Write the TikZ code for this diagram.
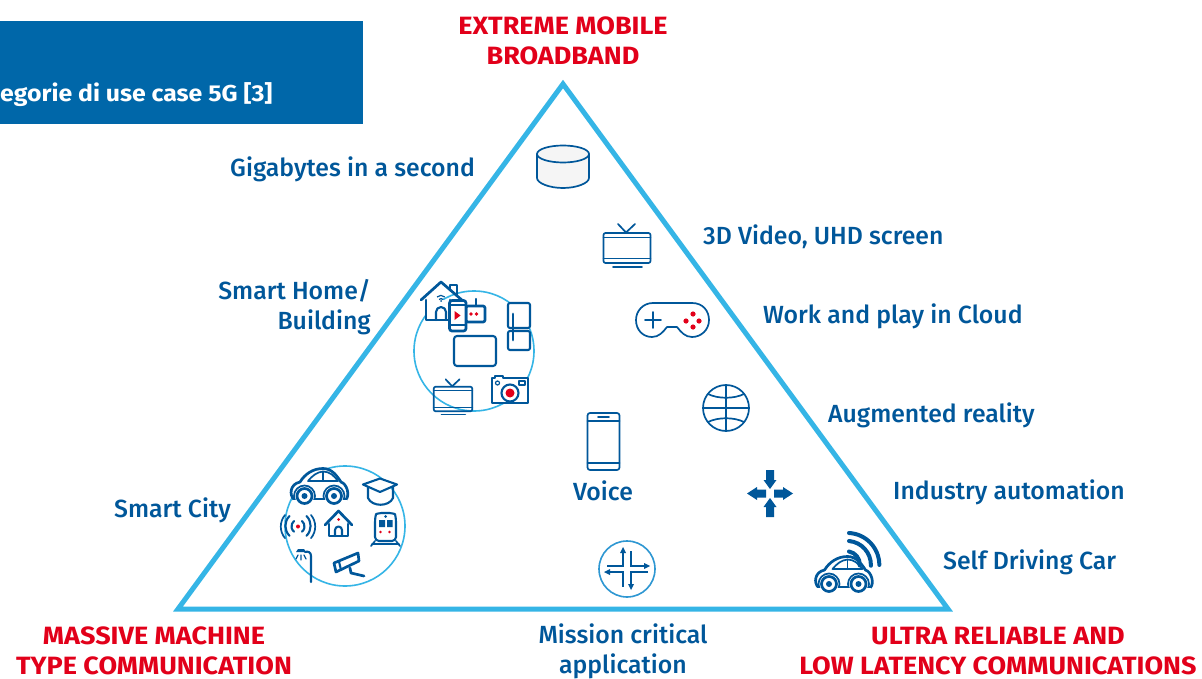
\documentclass[tikz,border=0pt]{standalone}
\usepackage{fontspec}
\setmainfont{Fira Sans}[UprightFont=* Medium,BoldFont=* Bold,BoldFeatures={FakeStretch=1.08}]
\definecolor{ingblue}{HTML}{00579A}
\definecolor{ingred}{HTML}{E2001A}
\definecolor{ingband}{HTML}{0067A9}
\definecolor{ingsky}{HTML}{35B5E6}
\definecolor{ingmid}{HTML}{2E97D2}
\tikzset{
  lbl/.style={text=ingblue,font=\fontsize{24.8}{30}\selectfont,inner sep=0pt,align=center},
  lblr/.style={text=ingblue,font=\fontsize{24.8}{30}\selectfont,inner sep=0pt,align=right},
  cat/.style={text=ingred,font=\bfseries\fontsize{25}{30}\selectfont,inner sep=0pt,align=center},
  ico/.style={draw=ingblue,line width=1.7pt,line join=round,line cap=round},
  icom/.style={draw=ingblue,line width=2.1pt,line join=round,line cap=round},
  icot/.style={draw=ingblue,line width=2.7pt,line join=round,line cap=round},
  halo/.style={draw=ingsky,line width=1.6pt},
}
\newcommand{\caricon}{%
  \path[icot,fill=white] (-25,12.5) .. controls (-30,8) and (-29,-3) .. (-19,-5)
     .. controls (-14,-13) and (-6,-18.5) .. (4,-18.5)
     .. controls (13,-18.5) and (18,-11) .. (22,-5)
     .. controls (28,-3) and (31,8) .. (27,12.5) -- cycle;
  \path[ico] (-11,-6) .. controls (-7,-11) and (-2,-15) .. (4,-15.5) .. controls (11,-15.5) and (15,-11) .. (19,-6) -- cycle;
  \path[ico] (4,-15.5) -- (4,-6);
  \path[ico,fill=white] (-14.5,9) circle (10.5);
  \path[ico,fill=white] (15,9) circle (10.5);
  \path[draw=white,fill=white,line width=1pt] (-26,13.8) rectangle (27,21);
  \path[icot,fill=white] (-14.5,9) circle (7.5);
  \path[icot,fill=white] (15,9) circle (7.5);
  \fill[ingblue] (-14.5,9) circle (3);
  \fill[ingblue] (15,9) circle (3);
}
\newcommand{\tvicon}{%
  \path[ico,rounded corners=2pt] (-23.5,-15) rectangle (23.5,15);
  \path[ico] (-23.5,-10.5) -- (23.5,-10.5) (-23.5,10.5) -- (23.5,10.5);
  \path[ico] (-9,-24) -- (-1,-15.5) -- (8,-24);
  \path[ico] (-14,19) -- (15,19);
}
\begin{document}
\begin{tikzpicture}[x=1pt,y=-1pt]
\useasboundingbox (0,0) rectangle (1202,679);
\fill[white] (0,0) rectangle (1202,679);

% title band
\fill[ingband] (0,21) rectangle (363,124);
\node[anchor=base west,inner sep=0pt,text=white,font=\bfseries\fontsize{23}{24}\selectfont] (title) at (0,101.5) {egorie di use case 5G [3]};

% triangle
\draw[draw=ingsky,line width=5pt,miter limit=10] (563,84) -- (948,609) -- (178,609) -- cycle;

% halos
\draw[halo] (474,351) circle (60);
\draw[halo] (345,526) circle (60);

% labels
\node[cat] (embb) at (563,40.5) {EXTREME MOBILE\\BROADBAND};
\node[cat] (mmtc) at (154,651) {MASSIVE MACHINE\\TYPE COMMUNICATION};
\node[cat] (urllc) at (998,651) {ULTRA RELIABLE AND\\LOW LATENCY COMMUNICATIONS};
\node[lbl,anchor=base west] (gig) at (230,177) {Gigabytes in a second};
\node[lbl,anchor=base west] (vid) at (703,244) {3D Video, UHD screen};
\node[lbl,anchor=base west] (work) at (763,323) {Work and play in Cloud};
\node[lblr,anchor=east] (home) at (371,307.5) {Smart Home/\\Building};
\node[lbl,anchor=base west] (ar) at (828,422) {Augmented reality};
\node[lbl,anchor=base west] (ind) at (893,499) {Industry automation};
\node[lbl,anchor=base west] (sdc) at (943,569) {Self Driving Car};
\node[lbl,anchor=base west] (city) at (114,517) {Smart City};
\node[lbl,anchor=base] (voice) at (603,500) {Voice};
\node[lbl] (miss) at (623,651.5) {Mission critical\\application};

% cylinder
\path[ico,fill=black!4] (537,154) -- (537,178) .. controls (537,183) and (549,188) .. (563,188)
   .. controls (577,188) and (589,183) .. (589,178) -- (589,154);
\path[ico,fill=black!4] (563,154) ellipse (26 and 8.5);

% tv 3D
\begin{scope}[shift={(627,248)}] \tvicon \end{scope}

% gamepad
\path[ico] (653,303) -- (692,303) .. controls (703,303) and (709,311) .. (709,320)
  .. controls (709,330) and (701,337) .. (692,337) .. controls (685,337) and (681,332) .. (677,327)
  -- (667,327) .. controls (663,332) and (659,337) .. (652,337)
  .. controls (643,337) and (636,330) .. (636,320) .. controls (636,311) and (643,303) .. (653,303) -- cycle;
\path[ico] (645,320) -- (661,320) (653,312) -- (653,328);
\foreach \p in {(693,314),(686,321),(699,321),(693,327)} \fill[ingred] \p circle (2.6);

% globe
\path[ico] (726,408) circle (23);
\path[ico] (726,385) -- (726,431) (703,408) -- (749,408);
\path[ico] (708,394) .. controls (718,399) and (734,399) .. (744,394);
\path[ico] (708,422) .. controls (718,417) and (734,417) .. (744,422);

% phone
\path[ico,rounded corners=2.5pt] (587.5,413) rectangle (619.5,470);
\path[ico] (587.5,421) -- (619.5,421) (587.5,463) -- (619.5,463) (598,417) -- (609,417);

% four arrows
\fill[ingblue] (766,470) -- (774,470) -- (774,480) -- (776.5,480) -- (770,489) -- (763.5,480) -- (766,480) -- cycle;
\fill[ingblue] (766,517) -- (774,517) -- (774,507) -- (776.5,507) -- (770,498) -- (763.5,507) -- (766,507) -- cycle;
\fill[ingblue] (766,489.5) -- (766,497.5) -- (757,497.5) -- (757,500) -- (747,493.5) -- (757,487) -- (757,489.5) -- cycle;
\fill[ingblue] (774,489.5) -- (774,497.5) -- (783,497.5) -- (783,500) -- (793,493.5) -- (783,487) -- (783,489.5) -- cycle;

% crossroads
\path[draw=ingmid,line width=1.6pt] (627,569) circle (28);
\begin{scope}[line width=1.6pt,line cap=butt,line join=miter]
\path[draw=ingblue] (607,566) -- (623,566) -- (623,552);
\fill[ingblue] (623,547) -- (620,553) -- (626,553) -- cycle;
\path[draw=ingblue] (631,551) -- (631,566) -- (645,566);
\fill[ingblue] (650,566) -- (644,563) -- (644,569) -- cycle;
\path[draw=ingblue] (610,572) -- (623,572) -- (623,587);
\fill[ingblue] (604,572) -- (610,569) -- (610,575) -- cycle;
\path[draw=ingblue] (648,572) -- (631,572) -- (631,585);
\fill[ingblue] (631,590) -- (628,584) -- (634,584) -- cycle;
\end{scope}

% self-driving car
\begin{scope}[shift={(843.5,575)}] \caricon \end{scope}
\path[draw=ingblue,line width=4pt,line cap=round] (849,551.5) arc[start angle=-80,end angle=5,radius=13];
\path[draw=ingblue,line width=4pt,line cap=round] (849,541) arc[start angle=-85,end angle=2,radius=24];
\path[draw=ingblue,line width=4pt,line cap=round] (849,533) arc[start angle=-87,end angle=0,radius=32];

% smart home group
\path[icot,fill=white] (426,300) -- (426,320) -- (450,320) -- (450,300);
\path[icot] (421,300) -- (441,282) -- (463,301);
\path[icom] (450,290) -- (450,285) -- (457,285) -- (457,295);
\path[icom] (436,320) -- (436,312) arc[start angle=180,end angle=360,radius=5] -- (446,320);
\path[draw=ingblue,line width=1.2pt] (437,297) arc[start angle=-135,end angle=-45,radius=5.5];
\path[draw=ingblue,line width=1.2pt] (439,299.5) arc[start angle=-135,end angle=-45,radius=3];
\fill[ingblue] (441,301) circle (1);
\path[icot,fill=white,rounded corners=2pt] (466,306) rectangle (485,322);
\path[icom] (476,306) -- (476,299);
\fill[ingred] (471,314) circle (1.8) (476.5,314) circle (1.8);
\path[icot,fill=white,rounded corners=2.5pt] (449.5,300.5) rectangle (466,331);
\path[ico,line width=1.2pt] (449.5,305) -- (466,305) (449.5,325) -- (466,325);
\fill[ingred] (454.5,311) -- (460.5,315.5) -- (454.5,320) -- cycle;
\path[icom,fill=white,rounded corners=2pt] (508,303) rectangle (530,328);
\path[icom,fill=white,rounded corners=2pt] (508,331) rectangle (530,350);
\path[icot] (513,314) -- (513,340);
\path[icom,fill=white,rounded corners=3pt] (454,336) rectangle (496,366);
\begin{scope}[shift={(453,399)},x=0.82pt,y=-0.82pt]
\tvicon
\end{scope}
\path[icom,fill=white] (492,378) -- (495,378) -- (495,376) -- (503,376) -- (503,378) -- (528,378) -- (528,403) -- (492,403) -- cycle;
\path[icom] (510,393) circle (8.5);
\fill[ingred] (510,393) circle (4.5);
\path[ico,line width=1.2pt] (497.5,383) circle (2);
\path[ico,line width=1.2pt] (519,381) rectangle (525,385);

% smart city group
\begin{scope}[shift={(319,487)}] \caricon \end{scope}
\path[icom,fill=white] (363,484.5) -- (380,478.5) -- (397,484.5) -- (380,492) -- cycle;
\path[icom] (368,487) -- (368,498) .. controls (372,507) and (389,507) .. (393,498) -- (393,487);
% signal
\fill[ingred] (298,526.5) circle (2);
\path[icom] (294,521) arc[start angle=-130,end angle=-230,radius=7];
\path[icom] (302,521) arc[start angle=-50,end angle=50,radius=7];
\path[icom] (289.5,516) arc[start angle=-135,end angle=-225,radius=14];
\path[icom] (306.5,516) arc[start angle=-45,end angle=45,radius=14];
\path[ico] (285,515) arc[start angle=-140,end angle=-220,radius=18];
\path[ico] (311,515) arc[start angle=-40,end angle=40,radius=18];
% house
\path[icot] (325,525) -- (338.5,511) -- (352,525);
\path[icot] (329,524) -- (329,536) -- (348,536) -- (348,524);
\path[icom] (335,536) -- (335,530) arc[start angle=180,end angle=360,radius=3.5] -- (342,536);
\fill[ingred] (338.5,519.5) circle (1.5);
% train
\path[icom,rounded corners=4pt] (375,541) -- (375,518) .. controls (376,514) and (380,513) .. (385.5,513) .. controls (391,513) and (395,514) .. (396,518) -- (396,541) -- cycle;
\fill[ingblue] (379,520) rectangle (385,527) (387,520) rectangle (392.5,527);
\fill[ingblue] (385.5,516.5) circle (1.5);
\fill[ingred] (380.5,532) circle (1.3) (389.5,532) circle (1.3);
\path[ico] (371,546) -- (375,541) (400,546) -- (396,541) (372,544) -- (399,544);
% street lamp
\path[icom] (311,582) -- (311,556) .. controls (311,552) and (308,551) .. (305,552);
\fill[ingblue] (296,552) -- (306,552) -- (304,549) -- (298,549) -- cycle;
\path[ico,line width=1.3pt] (298,555) -- (296,559) (301,555) -- (301,560) (304,555) -- (306,559);
% cctv
\path[icot,fill=white] (334,563) -- (358,553) -- (359,561) -- (336,572) -- cycle;
\path[icom] (339,561.5) -- (341,570);
\path[icot] (350,568) -- (351,573) -- (364,576);
\end{tikzpicture}
\end{document}
